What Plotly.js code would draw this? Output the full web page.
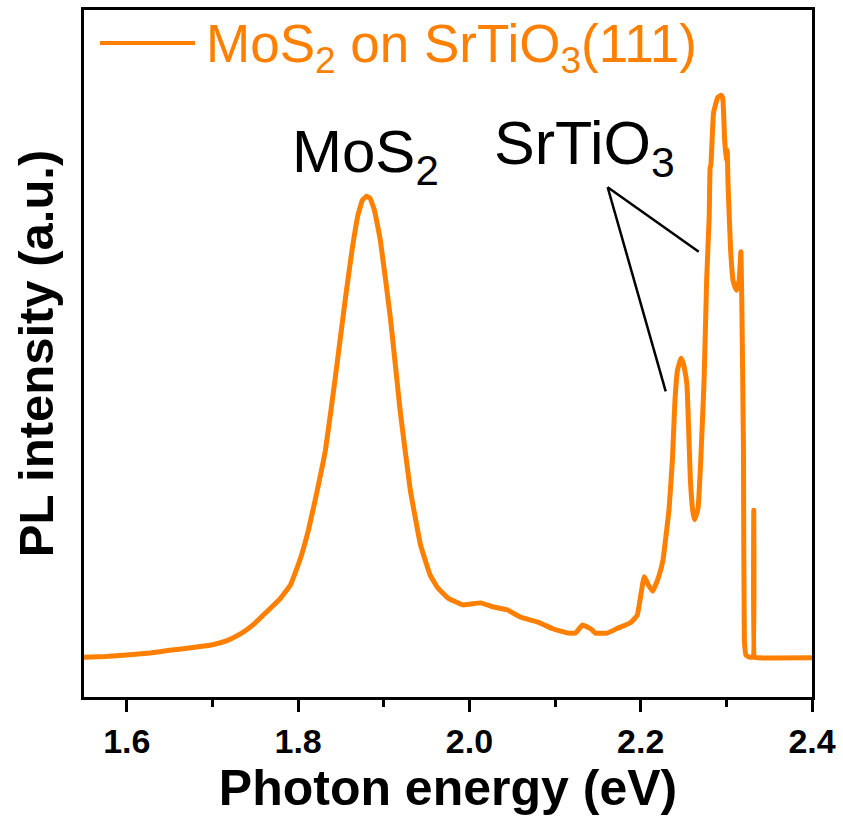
<!DOCTYPE html>
<html><head><meta charset="utf-8">
<script src="https://cdn.plot.ly/plotly-3.0.1.min.js"></script>
<style>html,body{margin:0;padding:0;background:#fff}#chart{width:843px;height:821px}</style>
</head><body><div id="chart"></div>
<script>
// Photon energy (eV)
const energy = [1.550,1.575,1.600,1.627,1.650,1.677,1.700,1.717,1.730,1.740,1.750,1.760,1.770,1.779,1.791,1.802,1.812,1.820,1.832,1.843,1.855,1.863,1.870,1.875,1.880,1.884,1.889,1.896,1.908,1.919,1.931,1.943,1.954,1.963,1.975,1.993,2.013,2.028,2.044,2.060,2.080,2.098,2.115,2.124,2.132,2.142,2.147,2.161,2.173,2.188,2.196,2.204,2.209,2.214,2.221,2.226,2.229,2.233,2.237,2.240,2.243,2.247,2.249,2.251,2.254,2.256,2.258,2.261,2.263,2.267,2.270,2.274,2.277,2.280,2.281,2.282,2.285,2.290,2.294,2.296,2.298,2.300,2.301,2.302,2.305,2.308,2.310,2.312,2.315,2.317,2.318,2.320,2.321,2.323,2.327,2.331,2.332,2.333,2.337,2.400];
// PL intensity (a.u.)
const intensity = [0.058,0.059,0.061,0.064,0.068,0.072,0.076,0.082,0.090,0.098,0.108,0.120,0.132,0.143,0.163,0.199,0.243,0.287,0.360,0.461,0.578,0.651,0.702,0.723,0.729,0.726,0.709,0.665,0.549,0.418,0.301,0.221,0.178,0.159,0.144,0.134,0.137,0.131,0.127,0.116,0.109,0.099,0.093,0.093,0.105,0.099,0.093,0.093,0.100,0.108,0.119,0.175,0.163,0.154,0.175,0.199,0.229,0.272,0.345,0.432,0.476,0.493,0.488,0.479,0.454,0.389,0.316,0.269,0.258,0.275,0.341,0.461,0.607,0.700,0.770,0.775,0.850,0.873,0.876,0.869,0.811,0.780,0.796,0.745,0.650,0.605,0.597,0.592,0.607,0.648,0.578,0.360,0.083,0.061,0.058,0.058,0.272,0.058,0.057,0.057];
const seriesName = 'MoS<sub>2</sub> on SrTiO<sub>3</sub>(111)';
const majorTicks = [1.6, 1.8, 2.0, 2.2, 2.4];
const majorTickText = ['1.6', '1.8', '2.0', '2.2', '2.4'];
const minorTicks = [1.7, 1.9, 2.1, 2.3];
const peakLabels = ['MoS<sub>2</sub>', 'SrTiO<sub>3</sub>'];

const orange = '#FF8000';
const FONT = 'Liberation Sans, Arial, sans-serif';

const trace = {
  x: energy, y: intensity, type: 'scatter', mode: 'lines',
  name: seriesName, showlegend: false,
  line: {color: orange, width: 5, shape: 'spline', smoothing: 0.3}
};

// plot area pixel helpers (for placing text/legend)
const L = 84, R = 812, T = 10, B = 697;
const px = v => (v - L) / (R - L);
const py = v => (B - v) / (B - T);

const layout = {
  width: 843, height: 821,
  margin: {l: L, r: 843 - R, t: T, b: 821 - B},
  paper_bgcolor: '#fff', plot_bgcolor: '#fff',
  showlegend: false,
  xaxis: {
    range: [1.55, 2.4], tickmode: 'array', tickvals: majorTicks, ticktext: majorTickText,
    ticks: 'outside', ticklen: 12, tickwidth: 3, tickcolor: '#000',
    minor: {tickmode: 'array', tickvals: minorTicks, ticks: 'outside', ticklen: 7, tickwidth: 3, tickcolor: '#000'},
    showline: true, linewidth: 3, linecolor: '#000', mirror: true,
    showgrid: false, zeroline: false,
    tickfont: {family: FONT, size: 34, color: '#000', weight: 'bold'},
    title: {text: 'Photon energy (eV)', font: {family: FONT, size: 50, color: '#000', weight: 'bold'}, standoff: 8},
    automargin: false
  },
  yaxis: {
    range: [0, 1], showticklabels: false, ticks: '',
    showline: true, linewidth: 3, linecolor: '#000', mirror: true,
    showgrid: false, zeroline: false,
    title: {text: 'PL intensity (a.u.)', font: {family: FONT, size: 49, color: '#000', weight: 'bold'}, standoff: 12},
    automargin: false
  },
  shapes: [
    // legend sample line
    {type: 'line', xref: 'paper', yref: 'paper', x0: px(100), x1: px(195), y0: py(43), y1: py(43), line: {color: orange, width: 4}},
    // SrTiO3 pointer lines
    {type: 'line', xref: 'x', yref: 'y', x0: 2.1614, y0: 0.742, x1: 2.2292, y1: 0.445, line: {color: '#000', width: 2.5}},
    {type: 'line', xref: 'x', yref: 'y', x0: 2.1614, y0: 0.742, x1: 2.2678, y1: 0.648, line: {color: '#000', width: 2.5}}
  ],
  annotations: [
    {xref: 'paper', yref: 'paper', x: px(204), y: py(48), xanchor: 'left', yanchor: 'middle', showarrow: false,
     text: seriesName, font: {family: FONT, size: 53, color: orange}},
    {xref: 'paper', yref: 'paper', x: px(290), y: py(156), xanchor: 'left', yanchor: 'middle', showarrow: false,
     text: peakLabels[0], font: {family: FONT, size: 60, color: '#000'}},
    {xref: 'paper', yref: 'paper', x: px(492), y: py(147), xanchor: 'left', yanchor: 'middle', showarrow: false,
     text: peakLabels[1], font: {family: FONT, size: 61, color: '#000'}}
  ]
};

Plotly.newPlot('chart', [trace], layout, {displayModeBar: false, staticPlot: true});
</script>
</body></html>
